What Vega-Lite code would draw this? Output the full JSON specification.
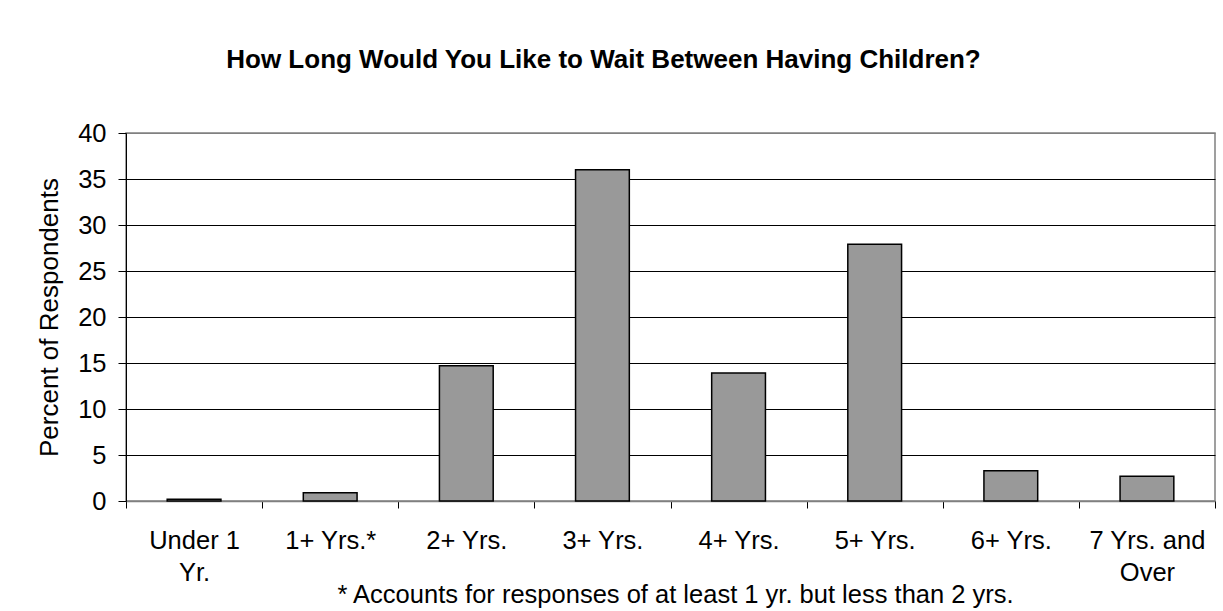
{
  "$schema": "https://vega.github.io/schema/vega-lite/v6.json",
  "width": 1089,
  "height": 368,
  "autosize": "none",
  "padding": {"left": 126, "top": 133, "right": 8, "bottom": 110},
  "background": "white",
  "title": {
    "text": "How Long Would You Like to Wait Between Having Children?",
    "font": "Liberation Sans",
    "fontSize": 26,
    "fontWeight": "bold",
    "color": "black",
    "anchor": "middle",
    "dx": -67,
    "baseline": "alphabetic",
    "offset": 27
  },
  "data": {
    "values": [
      {"wait": "Under 1 Yr.", "pct": 0.2},
      {"wait": "1+ Yrs.*", "pct": 0.9},
      {"wait": "2+ Yrs.", "pct": 14.7},
      {"wait": "3+ Yrs.", "pct": 36.0},
      {"wait": "4+ Yrs.", "pct": 13.9},
      {"wait": "5+ Yrs.", "pct": 27.9},
      {"wait": "6+ Yrs.", "pct": 3.3},
      {"wait": "7 Yrs. and Over", "pct": 2.7}
    ]
  },
  "mark": {"type": "bar", "width": {"band": 0.395}, "fill": "#999999", "stroke": "black", "strokeWidth": 1.5},
  "encoding": {
    "x": {
      "field": "wait",
      "type": "nominal",
      "sort": null,
      "scale": {"paddingInner": 0, "paddingOuter": 0},
      "axis": {
        "title": "* Accounts for responses of at least 1 yr. but less than 2 yrs.",
        "titleFont": "Liberation Sans",
        "titleFontSize": 25.5,
        "titleFontWeight": "normal",
        "titleColor": "black",
        "titleX": 211,
        "titleY": 101,
        "titleAlign": "left",
        "titleBaseline": "alphabetic",
        "labelAngle": 0,
        "labelFont": "Liberation Sans",
        "labelFontSize": 25.5,
        "labelColor": "black",
        "labelLineHeight": 32,
        "labelPadding": 20,
        "labelExpr": "datum.value == 'Under 1 Yr.' ? ['Under 1', 'Yr.'] : datum.value == '7 Yrs. and Over' ? ['7 Yrs. and', 'Over'] : datum.label",
        "tickBand": "extent",
        "tickSize": 7,
        "tickColor": "black",
        "domainColor": "#808080",
        "domainWidth": 1.5,
        "grid": false
      }
    },
    "y": {
      "field": "pct",
      "type": "quantitative",
      "scale": {"domain": [0, 40], "nice": false},
      "axis": {
        "title": "Percent of Respondents",
        "titleFont": "Liberation Sans",
        "titleFontSize": 26,
        "titleFontWeight": "normal",
        "titleColor": "black",
        "titleX": -77,
        "titleY": 184,
        "titleBaseline": "middle",
        "titleAlign": "center",
        "titleAngle": -90,
        "values": [0, 5, 10, 15, 20, 25, 30, 35, 40],
        "labelFont": "Liberation Sans",
        "labelFontSize": 25.5,
        "labelColor": "black",
        "labelPadding": 12,
        "tickSize": 8,
        "tickColor": "black",
        "domainColor": "black",
        "grid": true,
        "gridColor": {"condition": {"test": "datum.value == 40", "value": "#808080"}, "value": "black"},
        "gridWidth": 1
      }
    }
  },
  "config": {
    "view": {"stroke": "#808080", "strokeWidth": 1.5}
  }
}
